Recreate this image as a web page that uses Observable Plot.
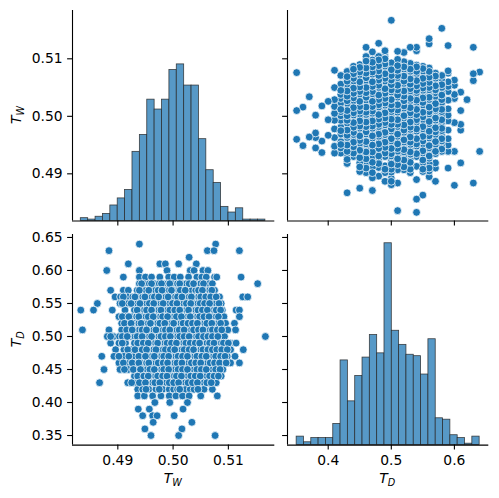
<!DOCTYPE html>
<html>
<head>
<meta charset="utf-8">
<script src="https://cdn.jsdelivr.net/npm/d3@7"></script>
<script src="https://cdn.jsdelivr.net/npm/@observablehq/plot@0.6"></script>
<style>
html, body { margin: 0; padding: 0; background: #fff; }
#chart { position: relative; width: 499px; height: 498px; overflow: hidden; font-family: "DejaVu Sans", sans-serif; }
#chart svg { position: absolute; overflow: visible; }
</style>
</head>
<body>
<div id="chart"></div>
<script>
// ---------------- data ----------------
// histogram of T_W (25 equal bins between min and max)
const twRange = [0.4833, 0.5167];
const twCounts = [2, 1, 3, 5, 11, 16, 22, 49, 61, 86, 79, 86, 107, 111, 96, 96, 58, 36, 27, 10, 6, 9, 1, 1, 1];
// histogram of T_D (25 equal bins between min and max)
const tdRange = [0.35, 0.64];
const tdCounts = [6, 2, 5, 5, 5, 15, 60, 31, 49, 62, 78, 65, 143, 81, 71, 64, 63, 50, 75, 19, 18, 7, 5, 1, 6];

// tick labels
const twTicks = [0.49, 0.50, 0.51];
const tdTicksY = [0.35, 0.40, 0.45, 0.50, 0.55, 0.60, 0.65];
const tdTicksX = [0.4, 0.5, 0.6];

// scatter: T_W values of the points in each T_D row
const row_064 = [0.4939, 0.5077];
const row_063 = [0.4884, 0.5062, 0.5074, 0.5120];
const row_062 = [0.5029];
const row_061 = [0.4919, 0.4976, 0.4986, 0.5010, 0.5042];
const row_060 = [0.4880, 0.4939, 0.4989, 0.5031, 0.5038, 0.5054, 0.5063];
const row_059 = [0.4910, 0.4939, 0.4950, 0.4961, 0.4976, 0.4992, 0.5002, 0.5013, 0.5028, 0.5043, 0.5052, 0.5060, 0.5075, 0.5079, 0.5123];
const row_058 = [0.4939, 0.4948, 0.4957, 0.4966, 0.4975, 0.4983, 0.4990, 0.4999, 0.5008, 0.5016, 0.5024, 0.5033, 0.5041, 0.5050, 0.5058, 0.5065, 0.5071, 0.5153];
const row_057 = [0.4887, 0.4910, 0.4919, 0.4935, 0.4944, 0.4951, 0.4960, 0.4968, 0.4977, 0.4984, 0.4993, 0.5001, 0.5010, 0.5017, 0.5026, 0.5034, 0.5041, 0.5050, 0.5057, 0.5066, 0.5075];
const row_056 = [0.4895, 0.4905, 0.4918, 0.4927, 0.4936, 0.4945, 0.4953, 0.4962, 0.4970, 0.4979, 0.4987, 0.4996, 0.5004, 0.5012, 0.5021, 0.5029, 0.5038, 0.5046, 0.5055, 0.5063, 0.5072, 0.5084, 0.5126, 0.5135];
const row_055 = [0.4863, 0.4904, 0.4912, 0.4919, 0.4928, 0.4936, 0.4944, 0.4952, 0.4961, 0.4969, 0.4978, 0.4986, 0.4994, 0.5003, 0.5011, 0.5019, 0.5028, 0.5036, 0.5045, 0.5053, 0.5061, 0.5070, 0.5078, 0.5087];
const row_054 = [0.4833, 0.4856, 0.4890, 0.4913, 0.4930, 0.4940, 0.4948, 0.4957, 0.4965, 0.4974, 0.4982, 0.4990, 0.4999, 0.5007, 0.5016, 0.5024, 0.5032, 0.5041, 0.5049, 0.5058, 0.5066, 0.5074, 0.5082, 0.5089, 0.5114, 0.5120];
const row_053 = [0.4902, 0.4914, 0.4925, 0.4934, 0.4943, 0.4951, 0.4960, 0.4968, 0.4977, 0.4985, 0.4994, 0.5002, 0.5010, 0.5019, 0.5027, 0.5036, 0.5044, 0.5052, 0.5061, 0.5069, 0.5078, 0.5086, 0.5092, 0.5120];
const row_052 = [0.4907, 0.4918, 0.4929, 0.4938, 0.4946, 0.4955, 0.4963, 0.4972, 0.4980, 0.4989, 0.4997, 0.5006, 0.5014, 0.5023, 0.5031, 0.5040, 0.5048, 0.5057, 0.5065, 0.5074, 0.5082, 0.5090, 0.5095, 0.5111];
const row_051 = [0.4836, 0.4884, 0.4907, 0.4921, 0.4930, 0.4939, 0.4948, 0.4956, 0.4965, 0.4973, 0.4982, 0.4990, 0.4999, 0.5007, 0.5016, 0.5024, 0.5033, 0.5041, 0.5050, 0.5058, 0.5067, 0.5075, 0.5084, 0.5092, 0.5099, 0.5113];
const row_050 = [0.4881, 0.4892, 0.4903, 0.4913, 0.4922, 0.4931, 0.4940, 0.4948, 0.4957, 0.4965, 0.4974, 0.4982, 0.4991, 0.4999, 0.5008, 0.5016, 0.5025, 0.5033, 0.5042, 0.5050, 0.5059, 0.5067, 0.5076, 0.5086, 0.5093, 0.5167];
const row_049 = [0.4887, 0.4902, 0.4914, 0.4930, 0.4942, 0.4951, 0.4959, 0.4968, 0.4976, 0.4985, 0.4993, 0.5002, 0.5010, 0.5019, 0.5027, 0.5036, 0.5044, 0.5053, 0.5061, 0.5070, 0.5078, 0.5087, 0.5095, 0.5104, 0.5114];
const row_048 = [0.4896, 0.4911, 0.4924, 0.4939, 0.4948, 0.4956, 0.4965, 0.4973, 0.4982, 0.4990, 0.4999, 0.5007, 0.5016, 0.5024, 0.5033, 0.5041, 0.5050, 0.5058, 0.5067, 0.5075, 0.5083, 0.5093, 0.5104, 0.5127];
const row_047 = [0.4871, 0.4893, 0.4911, 0.4930, 0.4945, 0.4954, 0.4962, 0.4971, 0.4979, 0.4988, 0.4996, 0.5005, 0.5013, 0.5022, 0.5030, 0.5039, 0.5047, 0.5056, 0.5064, 0.5073, 0.5081, 0.5090, 0.5098, 0.5112];
const row_046 = [0.4902, 0.4918, 0.4933, 0.4943, 0.4952, 0.4960, 0.4969, 0.4977, 0.4986, 0.4994, 0.5003, 0.5011, 0.5020, 0.5028, 0.5037, 0.5045, 0.5054, 0.5062, 0.5071, 0.5079, 0.5088, 0.5104, 0.5120];
const row_045 = [0.4875, 0.4904, 0.4919, 0.4936, 0.4945, 0.4953, 0.4962, 0.4970, 0.4979, 0.4987, 0.4996, 0.5004, 0.5013, 0.5021, 0.5030, 0.5038, 0.5047, 0.5055, 0.5064, 0.5072, 0.5081, 0.5090];
const row_044 = [0.4930, 0.4942, 0.4951, 0.4959, 0.4968, 0.4976, 0.4985, 0.4993, 0.5002, 0.5010, 0.5019, 0.5027, 0.5036, 0.5044, 0.5053, 0.5061, 0.5070, 0.5078, 0.5087];
const row_043 = [0.4867, 0.4918, 0.4933, 0.4945, 0.4954, 0.4963, 0.4971, 0.4980, 0.4988, 0.4997, 0.5005, 0.5014, 0.5022, 0.5031, 0.5039, 0.5048, 0.5056, 0.5065, 0.5072, 0.5078];
const row_042 = [0.4936, 0.4945, 0.4956, 0.4969, 0.4981, 0.4993, 0.5001, 0.5008, 0.5016, 0.5023, 0.5031, 0.5038, 0.5056, 0.5071];
const row_041 = [0.4936, 0.4948, 0.4963, 0.4978, 0.4993, 0.5005, 0.5017, 0.5029, 0.5050, 0.5080];
const row_040 = [0.4967, 0.4994, 0.5026];
const row_039 = [0.4937, 0.4957, 0.5018];
const row_038 = [0.4945, 0.4963, 0.4971, 0.5002];
const row_037 = [0.4964, 0.5034];
const row_036 = [0.4949, 0.5016];
const row_035 = [0.4960, 0.5010, 0.5076];

// further (overlapping) points hidden inside the dense rows
const more_058 = [0.4943, 0.4961, 0.4979, 0.4994, 0.5012, 0.5029, 0.5037, 0.5055];
const more_057 = [0.4939, 0.4956, 0.4973, 0.4980, 0.4997, 0.5013, 0.5022, 0.5046, 0.5053, 0.5070];
const more_056 = [0.4910, 0.4931, 0.4949, 0.4966, 0.4974, 0.4991, 0.5008, 0.5016, 0.5033, 0.5050, 0.5059, 0.5068, 0.5078];
const more_055 = [0.4908, 0.4924, 0.4940, 0.4957, 0.4965, 0.4982, 0.4999, 0.5007, 0.5024, 0.5032, 0.5049, 0.5057, 0.5066, 0.5083];
const more_054 = [0.4935, 0.4952, 0.4961, 0.4978, 0.4994, 0.5003, 0.5012, 0.5028, 0.5045, 0.5053, 0.5062, 0.5078, 0.5086];
const more_053 = [0.4908, 0.4920, 0.4938, 0.4955, 0.4964, 0.4981, 0.4990, 0.5006, 0.5015, 0.5031, 0.5048, 0.5056, 0.5065, 0.5082];
const more_052 = [0.4912, 0.4924, 0.4942, 0.4959, 0.4976, 0.4985, 0.5001, 0.5018, 0.5027, 0.5035, 0.5044, 0.5061, 0.5070, 0.5086];
const more_051 = [0.4916, 0.4926, 0.4944, 0.4952, 0.4969, 0.4986, 0.4994, 0.5011, 0.5020, 0.5037, 0.5046, 0.5054, 0.5071, 0.5080, 0.5088];
const more_050 = [0.4887, 0.4908, 0.4917, 0.4935, 0.4944, 0.4961, 0.4978, 0.4986, 0.4995, 0.5012, 0.5020, 0.5029, 0.5046, 0.5055, 0.5063, 0.5071, 0.5081];
const more_049 = [0.4908, 0.4936, 0.4946, 0.4955, 0.4972, 0.4989, 0.4997, 0.5006, 0.5023, 0.5031, 0.5040, 0.5048, 0.5066, 0.5074, 0.5091, 0.5100];
const more_048 = [0.4918, 0.4931, 0.4944, 0.4952, 0.4969, 0.4986, 0.4995, 0.5003, 0.5020, 0.5029, 0.5037, 0.5054, 0.5063, 0.5071, 0.5079, 0.5088, 0.5098];
const more_047 = [0.4902, 0.4920, 0.4938, 0.4950, 0.4966, 0.4983, 0.4992, 0.5009, 0.5017, 0.5026, 0.5043, 0.5052, 0.5060, 0.5077, 0.5086, 0.5094];
const more_046 = [0.4910, 0.4926, 0.4938, 0.4956, 0.4973, 0.4982, 0.4990, 0.5007, 0.5016, 0.5033, 0.5041, 0.5050, 0.5067, 0.5075, 0.5084, 0.5096];
const more_045 = [0.4912, 0.4928, 0.4941, 0.4958, 0.4966, 0.4983, 0.4992, 0.5009, 0.5017, 0.5026, 0.5043, 0.5051, 0.5060, 0.5077, 0.5085];
const more_044 = [0.4936, 0.4947, 0.4955, 0.4972, 0.4981, 0.4989, 0.5006, 0.5015, 0.5032, 0.5040, 0.5049, 0.5066, 0.5074, 0.5082];
const more_043 = [0.4925, 0.4939, 0.4950, 0.4967, 0.4976, 0.4993, 0.5001, 0.5010, 0.5027, 0.5035, 0.5044, 0.5061, 0.5069];
const more_042 = [0.4951, 0.4975, 0.5012, 0.5045];

const tdLevels = [0.64, 0.63, 0.62, 0.61, 0.60, 0.59, 0.58, 0.57, 0.56, 0.55, 0.54, 0.53, 0.52, 0.51, 0.50,
                  0.49, 0.48, 0.47, 0.46, 0.45, 0.44, 0.43, 0.42, 0.41, 0.40, 0.39, 0.38, 0.37, 0.36, 0.35];
const twRows = [row_064, row_063, row_062, row_061, row_060, row_059, row_058, row_057, row_056, row_055,
                row_054, row_053, row_052, row_051, row_050, row_049, row_048, row_047, row_046, row_045,
                row_044, row_043, row_042, row_041, row_040, row_039, row_038, row_037, row_036, row_035];
const twMore = [[], [], [], [], [], [], more_058, more_057, more_056, more_055,
                more_054, more_053, more_052, more_051, more_050, more_049, more_048, more_047, more_046, more_045,
                more_044, more_043, more_042, [], [], [], [], [], [], []];

// ---------------- derived tables ----------------
const points = [
  ...tdLevels.flatMap((td, i) => twRows[i].map(tw => ({tw, td}))),
  ...tdLevels.flatMap((td, i) => twMore[i].map(tw => ({tw, td})))
];
function bins(range, counts) {
  const w = (range[1] - range[0]) / counts.length;
  return counts.map((c, i) => ({x1: range[0] + i * w, x2: range[0] + (i + 1) * w, count: c}));
}
const twBins = bins(twRange, twCounts);
const tdBins = bins(tdRange, tdCounts);

// ---------------- scales / layout ----------------
const twDomain = [0.4818, 0.5184];
const tdDomain = [0.3355, 0.6545];
const countDomain = [0, 149.2];
const F = {x0: 71.7, x1: 274, x2: 286.7, x3: 488, y0: 9.7, y1: 220.2, y2: 234, y3: 444.6};
const M = {l: 60, r: 8, t: 8, b: 40};
const BLUE = "#1f77b4";
const HIST_FILL = "rgb(87,153,199)";
const FS = 13.9;
const chart = document.getElementById("chart");

function panel(fx0, fx1, fy0, fy1, xDom, yDom, marks) {
  const w = fx1 - fx0, h = fy1 - fy0;
  const svg = Plot.plot({
    width: w + M.l + M.r, height: h + M.t + M.b,
    marginLeft: M.l, marginRight: M.r, marginTop: M.t, marginBottom: M.b,
    x: {domain: xDom, axis: null}, y: {domain: yDom, axis: null},
    style: {background: "transparent", overflow: "visible", fontFamily: "DejaVu Sans", fontSize: FS + "px", color: "#000"},
    marks
  });
  svg.style.left = (fx0 - M.l) + "px";
  svg.style.top = (fy0 - M.t) + "px";
  chart.append(svg);
}

function axes(xDom, yDom, xTicks, yTicks, xFmt, yFmt) {
  return [
    Plot.axisX(xTicks, {anchor: "bottom", tickSize: 4.9, tickPadding: 4.9, strokeWidth: 1.1, fontSize: FS,
      tickFormat: xFmt || (() => ""), label: null, fill: "#000"}),
    Plot.axisY(yTicks, {anchor: "left", tickSize: 4.9, tickPadding: 4.9, strokeWidth: 1.1, fontSize: FS,
      tickFormat: yFmt || (() => ""), label: null, fill: "#000"}),
    Plot.ruleX([xDom[0]], {stroke: "#000", strokeWidth: 1.1}),
    Plot.ruleY([yDom[0]], {stroke: "#000", strokeWidth: 1.1})
  ];
}

const dotOpts = {r: 3.9, fill: BLUE, stroke: "white", strokeWidth: 0.75};
const histOpts = {fill: HIST_FILL, stroke: "#262626", strokeOpacity: 0.85, strokeWidth: 0.8};

// top-left: histogram of T_W
panel(F.x0, F.x1, F.y0, F.y1, twDomain, countDomain, [
  Plot.rectY(twBins, {x1: "x1", x2: "x2", y: "count", ...histOpts})
]);
panel(F.x0, F.x1, F.y0, F.y1, twDomain, twDomain,
  axes(twDomain, twDomain, twTicks, twTicks, null, d3.format(".2f")));

// top-right: T_D (x) vs T_W (y)
panel(F.x2, F.x3, F.y0, F.y1, tdDomain, twDomain, [
  Plot.dot(points, {x: "td", y: "tw", ...dotOpts}),
  ...axes(tdDomain, twDomain, tdTicksX, twTicks, null, null)
]);

// bottom-left: T_W (x) vs T_D (y)
panel(F.x0, F.x1, F.y2, F.y3, twDomain, tdDomain, [
  Plot.dot(points, {x: "tw", y: "td", ...dotOpts}),
  ...axes(twDomain, tdDomain, twTicks, tdTicksY, d3.format(".2f"), d3.format(".2f"))
]);

// bottom-right: histogram of T_D
panel(F.x2, F.x3, F.y2, F.y3, tdDomain, countDomain, [
  Plot.rectY(tdBins, {x1: "x1", x2: "x2", y: "count", ...histOpts})
]);
panel(F.x2, F.x3, F.y2, F.y3, tdDomain, tdDomain,
  axes(tdDomain, tdDomain, tdTicksX, tdTicksY, d3.format(".1f"), null));

// axis titles (math-style italic with subscripts)
const ns = "http://www.w3.org/2000/svg";
const overlay = document.createElementNS(ns, "svg");
overlay.setAttribute("width", 499); overlay.setAttribute("height", 498);
overlay.style.left = "0px"; overlay.style.top = "0px";
function mathLabel(x, y, main, sub, rotate) {
  const t = document.createElementNS(ns, "text");
  t.setAttribute("text-anchor", "middle");
  t.setAttribute("font-family", "DejaVu Sans");
  t.setAttribute("font-style", "italic");
  t.setAttribute("font-size", FS);
  t.setAttribute("fill", "#000");
  t.setAttribute("transform", `translate(${x},${y})` + (rotate ? " rotate(-90)" : ""));
  t.textContent = main;
  const s = document.createElementNS(ns, "tspan");
  s.setAttribute("font-size", 9.7);
  s.setAttribute("dy", 3.2);
  s.textContent = sub;
  t.append(s);
  overlay.append(t);
}
mathLabel((F.x0 + F.x1) / 2, 483, "T", "W", false);
mathLabel((F.x2 + F.x3) / 2, 483, "T", "D", false);
mathLabel(21, (F.y0 + F.y1) / 2, "T", "W", true);
mathLabel(21, (F.y2 + F.y3) / 2, "T", "D", true);
chart.append(overlay);
</script>
</body>
</html>
